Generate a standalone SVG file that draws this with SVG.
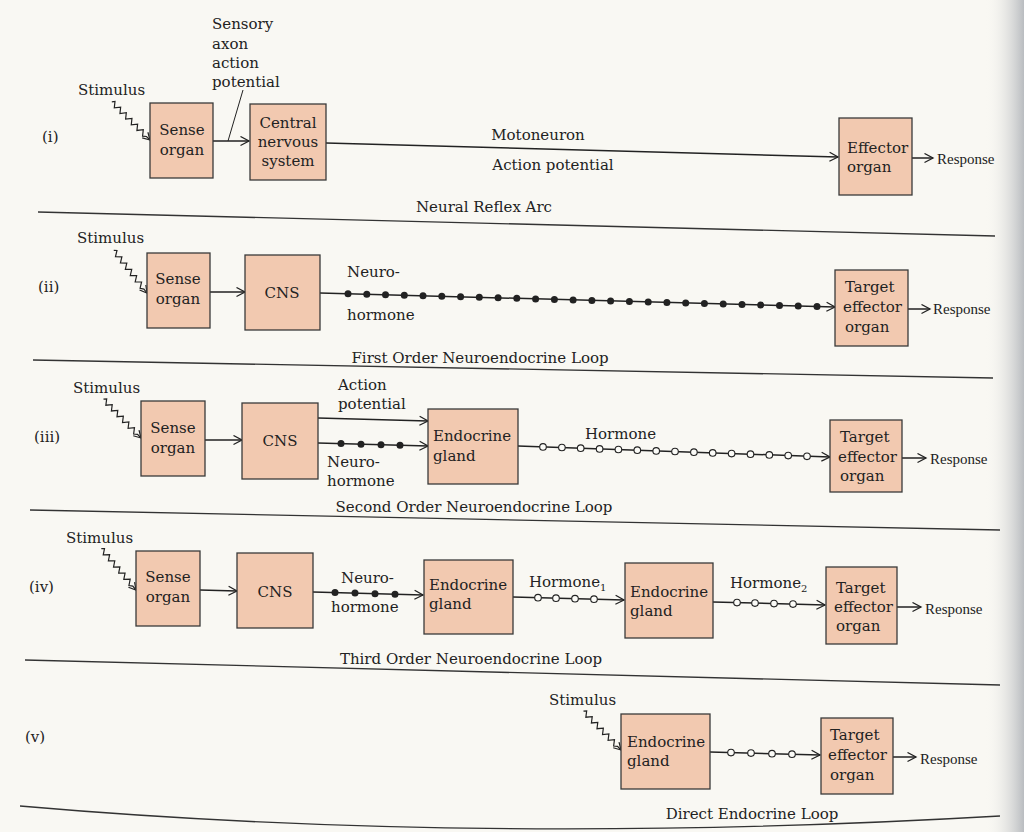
<svg xmlns="http://www.w3.org/2000/svg" xmlns:xlink="http://www.w3.org/1999/xlink" width="1024" height="832" viewBox="0 0 1024 832">
<defs>
<style>
.bg{fill:#f9f8f3}
.box{fill:#f2c9b0;stroke:#3a3a3a;stroke-width:1.3}
.t{font-family:"DejaVu Serif",serif;font-size:15px;fill:#222}
.m{text-anchor:middle}
.r{font-family:"Liberation Serif",serif;font-size:15px;fill:#222}
.sub{font-size:10px}
.ln{fill:none;stroke:#222;stroke-width:1.5}
.thin{fill:none;stroke:#222;stroke-width:1}
.sep{fill:none;stroke:#333;stroke-width:1.4}
.fd{fill:#222;stroke:none}
.od{fill:#fbfbf7;stroke:#222;stroke-width:1.1}
</style>
<marker id="ah" markerWidth="11" markerHeight="11" refX="9.5" refY="5.5" orient="auto" markerUnits="userSpaceOnUse">
<path d="M1,1 L9.5,5.5 L1,10" fill="none" stroke="#222" stroke-width="1.3"/>
</marker>
<g id="stim">
<path d="M-54,0 L-52,-2.5 L-48,2.5 L-44,-2.5 L-40,2.5 L-36,-2.5 L-32,2.5 L-28,-2.5 L-24,2.5 L-20,-2.5 L-16,2.5 L-12,-2.5 L-8,2.5 L-5,0 L0,0" fill="none" stroke="#222" stroke-width="1.2"/>
<path d="M-7,-4 L0,0 L-7,4" fill="none" stroke="#222" stroke-width="1.2"/>
</g>
<linearGradient id="edge" x1="0" y1="0" x2="1" y2="0">
<stop offset="0" stop-color="#f9f8f3" stop-opacity="0"/>
<stop offset="1" stop-color="#b9bcc0"/>
</linearGradient>
</defs>
<rect class="bg" x="0" y="0" width="1024" height="832"/>
<rect x="985" y="0" width="39" height="832" fill="url(#edge)"/>

<!-- separators -->
<g id="separators">
<path class="sep" d="M38,212 L995,236"/>
<path class="sep" d="M33,360 L993,378"/>
<path class="sep" d="M30,510 L1000,530"/>
<path class="sep" d="M25,660 L1000,685"/>
<path class="sep" d="M20,806 Q480,846 1000,816"/>
</g>

<!-- labels -->
<g id="labels">
<text class="t" x="42" y="142">(i)</text>
<text class="t" x="38" y="292">(ii)</text>
<text class="t" x="34" y="442">(iii)</text>
<text class="t" x="29" y="592">(iv)</text>
<text class="t" x="25" y="742">(v)</text>
<text class="t m" x="484" y="212">Neural Reflex Arc</text>
<text class="t m" x="480" y="363">First Order Neuroendocrine Loop</text>
<text class="t m" x="474" y="512">Second Order Neuroendocrine Loop</text>
<text class="t m" x="471" y="664">Third Order Neuroendocrine Loop</text>
<text class="t m" x="752" y="819">Direct Endocrine Loop</text>
</g>

<!-- connectors -->
<g id="connectors">
<!-- row i -->
<use xlink:href="#stim" transform="translate(150,140) rotate(45)"/>
<path class="ln" d="M213,141 L249,141" marker-end="url(#ah)"/>
<path class="thin" d="M228,141 L243,90"/>
<path class="ln" d="M326,143 L838,157" marker-end="url(#ah)"/>
<path class="ln" d="M912,158 L933,158" marker-end="url(#ah)"/>
<!-- row ii -->
<use xlink:href="#stim" transform="translate(147,293) rotate(52)"/>
<path class="ln" d="M210,292 L245,292" marker-end="url(#ah)"/>
<path class="ln" d="M320,293 L835,307" marker-end="url(#ah)"/>
<g class="fd">
<circle cx="348" cy="293.8" r="3.5"/><circle cx="366.8" cy="294.3" r="3.5"/><circle cx="385.5" cy="294.8" r="3.5"/><circle cx="404.3" cy="295.3" r="3.5"/><circle cx="423" cy="295.8" r="3.5"/><circle cx="441.8" cy="296.3" r="3.5"/><circle cx="460.6" cy="296.8" r="3.5"/><circle cx="479.3" cy="297.3" r="3.5"/><circle cx="498.1" cy="297.8" r="3.5"/><circle cx="516.8" cy="298.3" r="3.5"/><circle cx="535.6" cy="298.9" r="3.5"/><circle cx="554.4" cy="299.4" r="3.5"/><circle cx="573.1" cy="299.9" r="3.5"/><circle cx="591.9" cy="300.4" r="3.5"/><circle cx="610.6" cy="300.9" r="3.5"/><circle cx="629.4" cy="301.4" r="3.5"/><circle cx="648.2" cy="301.9" r="3.5"/><circle cx="666.9" cy="302.4" r="3.5"/><circle cx="685.7" cy="302.9" r="3.5"/><circle cx="704.4" cy="303.5" r="3.5"/><circle cx="723.2" cy="304" r="3.5"/><circle cx="742" cy="304.5" r="3.5"/><circle cx="760.7" cy="305" r="3.5"/><circle cx="779.5" cy="305.5" r="3.5"/><circle cx="798.2" cy="306" r="3.5"/><circle cx="817" cy="306.5" r="3.5"/>
</g>
<path class="ln" d="M908,309 L930,309" marker-end="url(#ah)"/>
<!-- row iii -->
<use xlink:href="#stim" transform="translate(141,438) rotate(46)"/>
<path class="ln" d="M205,440 L242,440" marker-end="url(#ah)"/>
<path class="ln" d="M318,418 L428,421" marker-end="url(#ah)"/>
<path class="ln" d="M318,443 L428,446" marker-end="url(#ah)"/>
<g class="fd">
<circle cx="341" cy="443.6" r="3.5"/><circle cx="361" cy="444.2" r="3.5"/><circle cx="381" cy="444.7" r="3.5"/><circle cx="400" cy="445.2" r="3.5"/>
</g>
<path class="ln" d="M518,446 L830,457" marker-end="url(#ah)"/>
<g class="od">
<circle cx="543" cy="446.9" r="3.3"/><circle cx="561.9" cy="447.5" r="3.3"/><circle cx="580.7" cy="448.2" r="3.3"/><circle cx="599.6" cy="448.9" r="3.3"/><circle cx="618.4" cy="449.5" r="3.3"/><circle cx="637.3" cy="450.2" r="3.3"/><circle cx="656.2" cy="450.9" r="3.3"/><circle cx="675" cy="451.5" r="3.3"/><circle cx="693.9" cy="452.2" r="3.3"/><circle cx="712.7" cy="452.9" r="3.3"/><circle cx="731.6" cy="453.6" r="3.3"/><circle cx="750.5" cy="454.2" r="3.3"/><circle cx="769.3" cy="454.9" r="3.3"/><circle cx="788.2" cy="455.6" r="3.3"/><circle cx="807" cy="456.3" r="3.3"/>
</g>
<path class="ln" d="M902,458 L926,458" marker-end="url(#ah)"/>
<!-- row iv -->
<use xlink:href="#stim" transform="translate(136,590) rotate(50)"/>
<path class="ln" d="M200,590 L237,591" marker-end="url(#ah)"/>
<path class="ln" d="M313,592 L423,595" marker-end="url(#ah)"/>
<g class="fd">
<circle cx="335" cy="592.6" r="3.5"/><circle cx="355" cy="593.1" r="3.5"/><circle cx="375" cy="593.7" r="3.5"/><circle cx="395" cy="594.2" r="3.5"/>
</g>
<path class="ln" d="M513,597 L624,600" marker-end="url(#ah)"/>
<g class="od">
<circle cx="538" cy="597.7" r="3.3"/><circle cx="556" cy="598.2" r="3.3"/><circle cx="575" cy="598.7" r="3.3"/><circle cx="594" cy="599.2" r="3.3"/>
</g>
<path class="ln" d="M713,602 L825,605" marker-end="url(#ah)"/>
<g class="od">
<circle cx="737" cy="602.6" r="3.3"/><circle cx="755" cy="603.1" r="3.3"/><circle cx="774" cy="603.6" r="3.3"/><circle cx="793" cy="604.1" r="3.3"/>
</g>
<path class="ln" d="M897,607 L921,607" marker-end="url(#ah)"/>
<!-- row v -->
<use xlink:href="#stim" transform="translate(621,750) rotate(46)"/>
<path class="ln" d="M710,752 L820,755" marker-end="url(#ah)"/>
<g class="od">
<circle cx="731" cy="752.6" r="3.3"/><circle cx="751" cy="753.1" r="3.3"/><circle cx="772" cy="753.7" r="3.3"/><circle cx="792" cy="754.2" r="3.3"/>
</g>
<path class="ln" d="M893,757 L916,757" marker-end="url(#ah)"/>
</g>

<!-- connector labels -->
<g id="connector-labels">
<text class="t" x="78" y="95">Stimulus</text>
<text class="t" x="212" y="29">Sensory</text>
<text class="t" x="212" y="49">axon</text>
<text class="t" x="212" y="68">action</text>
<text class="t" x="212" y="87">potential</text>
<text class="t m" x="538" y="140">Motoneuron</text>
<text class="t m" x="553" y="170">Action potential</text>
<text class="r" x="937" y="164">Response</text>

<text class="t" x="77" y="243">Stimulus</text>
<text class="t" x="347" y="277">Neuro-</text>
<text class="t" x="347" y="320">hormone</text>
<text class="r" x="933" y="314">Response</text>

<text class="t" x="73" y="393">Stimulus</text>
<text class="t" x="338" y="390">Action</text>
<text class="t" x="338" y="409">potential</text>
<text class="t" x="327" y="467">Neuro-</text>
<text class="t" x="327" y="486">hormone</text>
<text class="t" x="585" y="439">Hormone</text>
<text class="r" x="930" y="464">Response</text>

<text class="t" x="66" y="543">Stimulus</text>
<text class="t" x="341" y="583">Neuro-</text>
<text class="t" x="331" y="612">hormone</text>
<text class="t" x="529" y="587">Hormone<tspan class="sub" dy="4">1</tspan></text>
<text class="t" x="730" y="588">Hormone<tspan class="sub" dy="4">2</tspan></text>
<text class="r" x="925" y="614">Response</text>

<text class="t" x="549" y="705">Stimulus</text>
<text class="r" x="920" y="764">Response</text>
</g>

<!-- nodes -->
<g id="sense-organ-1"><rect class="box" x="150" y="103" width="63" height="75"/><text class="t m" x="182" y="135">Sense</text><text class="t m" x="182" y="155">organ</text></g>
<g id="cns-1"><rect class="box" x="250" y="104" width="76" height="76"/><text class="t m" x="288" y="128">Central</text><text class="t m" x="288" y="147">nervous</text><text class="t m" x="288" y="166">system</text></g>
<g id="effector-1"><rect class="box" x="839" y="118" width="73" height="77"/><text class="t" x="847" y="153">Effector</text><text class="t" x="847" y="172">organ</text></g>

<g id="sense-organ-2"><rect class="box" x="147" y="253" width="63" height="75"/><text class="t m" x="178" y="284">Sense</text><text class="t m" x="178" y="304">organ</text></g>
<g id="cns-2"><rect class="box" x="245" y="255" width="75" height="75"/><text class="t m" x="282" y="298">CNS</text></g>
<g id="target-2"><rect class="box" x="835" y="270" width="73" height="76"/><text class="t" x="845" y="292">Target</text><text class="t" x="843" y="312">effector</text><text class="t" x="845" y="332">organ</text></g>

<g id="sense-organ-3"><rect class="box" x="141" y="401" width="64" height="75"/><text class="t m" x="173" y="433">Sense</text><text class="t m" x="173" y="453">organ</text></g>
<g id="cns-3"><rect class="box" x="242" y="403" width="76" height="76"/><text class="t m" x="280" y="446">CNS</text></g>
<g id="endocrine-3"><rect class="box" x="428" y="409" width="90" height="75"/><text class="t" x="433" y="441">Endocrine</text><text class="t" x="433" y="461">gland</text></g>
<g id="target-3"><rect class="box" x="830" y="420" width="72" height="72"/><text class="t" x="840" y="442">Target</text><text class="t" x="838" y="462">effector</text><text class="t" x="840" y="481">organ</text></g>

<g id="sense-organ-4"><rect class="box" x="136" y="551" width="64" height="75"/><text class="t m" x="168" y="582">Sense</text><text class="t m" x="168" y="602">organ</text></g>
<g id="cns-4"><rect class="box" x="237" y="553" width="76" height="75"/><text class="t m" x="275" y="597">CNS</text></g>
<g id="endocrine-4a"><rect class="box" x="424" y="560" width="89" height="74"/><text class="t" x="429" y="590">Endocrine</text><text class="t" x="429" y="609">gland</text></g>
<g id="endocrine-4b"><rect class="box" x="625" y="563" width="88" height="75"/><text class="t" x="630" y="597">Endocrine</text><text class="t" x="630" y="616">gland</text></g>
<g id="target-4"><rect class="box" x="826" y="567" width="71" height="77"/><text class="t" x="836" y="593">Target</text><text class="t" x="834" y="612">effector</text><text class="t" x="836" y="631">organ</text></g>

<g id="endocrine-5"><rect class="box" x="621" y="714" width="89" height="75"/><text class="t" x="627" y="747">Endocrine</text><text class="t" x="627" y="766">gland</text></g>
<g id="target-5"><rect class="box" x="821" y="718" width="72" height="76"/><text class="t" x="830" y="740">Target</text><text class="t" x="828" y="760">effector</text><text class="t" x="830" y="780">organ</text></g>
</svg>
